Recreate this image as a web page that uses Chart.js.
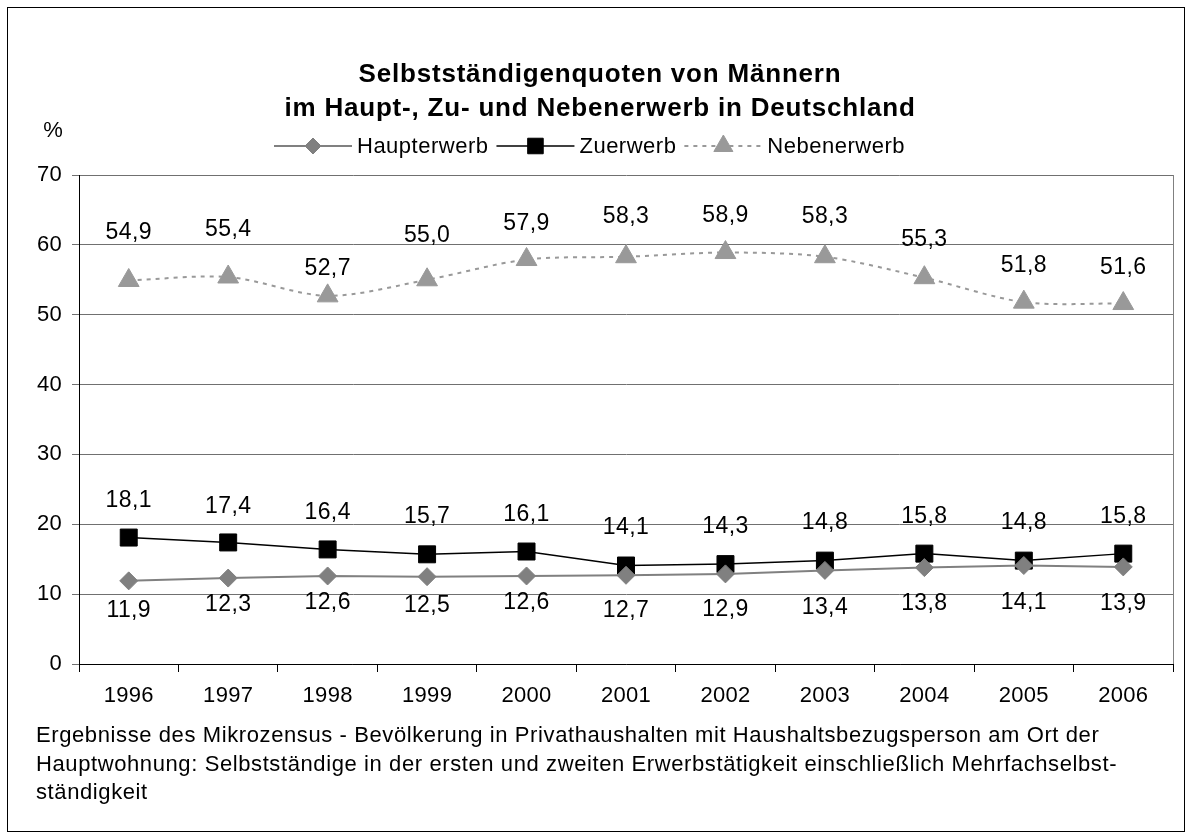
<!DOCTYPE html>
<html>
<head>
<meta charset="utf-8">
<script src="https://cdn.jsdelivr.net/npm/chart.js@4"></script>
<style>
  html, body { margin: 0; padding: 0; background: #fff; }
  #wrap { position: relative; width: 1192px; height: 839px; }
</style>
</head>
<body>
<div id="wrap"><canvas id="chart" width="1192" height="839"></canvas></div>
<script>
// data
const years = ['1996', '1997', '1998', '1999', '2000', '2001', '2002', '2003', '2004', '2005', '2006'];
const haupterwerb = [11.9, 12.3, 12.6, 12.5, 12.6, 12.7, 12.9, 13.4, 13.8, 14.1, 13.9];
const zuerwerb = [18.1, 17.4, 16.4, 15.7, 16.1, 14.1, 14.3, 14.8, 15.8, 14.8, 15.8];
const nebenerwerb = [54.9, 55.4, 52.7, 55.0, 57.9, 58.3, 58.9, 58.3, 55.3, 51.8, 51.6];
const yTicks = [0, 10, 20, 30, 40, 50, 60, 70];

const titleLines = ['Selbstständigenquoten von Männern', 'im Haupt-, Zu- und Nebenerwerb in Deutschland'];
const footnoteLines = [
    'Ergebnisse des Mikrozensus - Bevölkerung in Privathaushalten mit Haushaltsbezugsperson am Ort der',
    'Hauptwohnung: Selbstständige in der ersten und zweiten Erwerbstätigkeit einschließlich Mehrfachselbst-',
    'ständigkeit'
];

// label placement (pixels from the point, vertical)
const labelShift = [
    [30, 27, 27, 29, 27, 35, 36, 37, 36, 37, 37],
    [-37, -36, -37, -38, -37, -38, -37, -38, -37, -38, -37],
    [-48, -47, -27, -44, -36, -40, -37, -40, -38, -36, -36]
];

const FONT = '"Liberation Sans", Arial, sans-serif';
const fmt = v => v.toFixed(1).replace('.', ',');

const decorations = {
    id: 'decorations',
    beforeDraw(chart) {
        // the original renders text a little wider than Liberation Sans
        chart.ctx.letterSpacing = '0.3px';
    },
    afterDatasetsDraw(chart) {
        const ctx = chart.ctx;
        const area = chart.chartArea;
        ctx.save();

        // right edge of plot
        ctx.strokeStyle = '#808080';
        ctx.lineWidth = 1;
        ctx.beginPath();
        ctx.moveTo(Math.round(area.right) + 0.5, area.top);
        ctx.lineTo(Math.round(area.right) + 0.5, area.bottom);
        ctx.stroke();

        // value labels
        ctx.fillStyle = '#000';
        ctx.font = '23px ' + FONT;
        ctx.letterSpacing = '0.4px';
        ctx.textAlign = 'center';
        ctx.textBaseline = 'middle';
        chart.data.datasets.forEach((ds, di) => {
            chart.getDatasetMeta(di).data.forEach((pt, i) => {
                ctx.fillText(fmt(ds.data[i]), pt.x, pt.y + labelShift[di][i]);
            });
        });
        ctx.restore();
    },
    afterDraw(chart) {
        const ctx = chart.ctx;
        ctx.save();

        // outer frame
        ctx.strokeStyle = '#000';
        ctx.lineWidth = 1;
        ctx.strokeRect(7.5, 7.5, 1177, 824);

        // title
        ctx.fillStyle = '#000';
        ctx.textAlign = 'center';
        ctx.textBaseline = 'middle';
        ctx.font = 'bold 26px ' + FONT;
        ctx.letterSpacing = '0.8px';
        ctx.fillText(titleLines[0], 600, 75);
        ctx.fillText(titleLines[1], 600, 109);

        // unit
        ctx.font = '22px ' + FONT;
        ctx.letterSpacing = '0px';
        ctx.fillText('%', 53, 131);

        // legend
        ctx.font = '22px ' + FONT;
        ctx.letterSpacing = '0.5px';
        ctx.textAlign = 'left';
        const lineLen = 78;
        let x = 274;
        const ly = 146;
        chart.data.datasets.forEach(ds => {
            ctx.save();
            ctx.strokeStyle = ds.borderColor;
            ctx.lineWidth = ds.borderWidth;
            ctx.setLineDash(ds.borderDash || []);
            ctx.beginPath();
            ctx.moveTo(x, ly);
            ctx.lineTo(x + lineLen, ly);
            ctx.stroke();
            ctx.restore();
            ctx.fillStyle = ds.pointBackgroundColor;
            ctx.strokeStyle = ds.pointBorderColor;
            Chart.helpers.drawPoint(ctx, {
                pointStyle: ds.pointStyle,
                radius: ds.pointRadius - 1,
                borderWidth: 1
            }, x + lineLen / 2, ly);
            ctx.fillStyle = '#000';
            ctx.fillText(ds.label, x + lineLen + 5, ly + 1);
            x += lineLen + 5 + ctx.measureText(ds.label).width + 8;
        });

        // footnote
        ctx.font = '22px ' + FONT;
        ctx.letterSpacing = '0.6px';
        ctx.fillStyle = '#000';
        footnoteLines.forEach((t, i) => ctx.fillText(t, 36, 736 + i * 28.5));
        ctx.restore();
    }
};

new Chart(document.getElementById('chart'), {
    type: 'line',
    data: {
        labels: years,
        datasets: [
            {
                label: 'Haupterwerb',
                data: haupterwerb,
                borderColor: '#808080',
                borderWidth: 2,
                pointStyle: 'rectRot',
                pointRadius: 9,
                pointBackgroundColor: '#808080',
                pointBorderColor: '#808080',
                pointBorderWidth: 1,
                tension: 0
            },
            {
                label: 'Zuerwerb',
                data: zuerwerb,
                borderColor: '#000000',
                borderWidth: 1.5,
                pointStyle: 'rect',
                pointRadius: 12,
                pointBackgroundColor: '#000000',
                pointBorderColor: '#000000',
                pointBorderWidth: 1,
                tension: 0
            },
            {
                label: 'Nebenerwerb',
                data: nebenerwerb,
                borderColor: '#999999',
                borderWidth: 2,
                borderDash: [4, 5],
                pointStyle: 'triangle',
                pointRadius: 12,
                pointBackgroundColor: '#999999',
                pointBorderColor: '#999999',
                pointBorderWidth: 1,
                tension: 0.3
            }
        ]
    },
    options: {
        responsive: false,
        animation: false,
        layout: { padding: { top: 175, right: 19, left: 0, bottom: 0 } },
        plugins: {
            legend: { display: false },
            title: { display: false },
            tooltip: { enabled: false }
        },
        scales: {
            x: {
                offset: true,
                grid: { offset: true, drawOnChartArea: false, drawTicks: true, tickLength: 8, color: '#000' },
                border: { color: '#000', width: 1 },
                ticks: { color: '#000', font: { family: FONT, size: 22 }, padding: 11, maxRotation: 0 },
                afterFit: s => { s.height = 175; }
            },
            y: {
                min: 0,
                max: 70,
                afterBuildTicks: s => { s.ticks = yTicks.map(v => ({ value: v })); },
                grid: { color: '#707070', tickLength: 7 },
                border: { color: '#000', width: 1 },
                ticks: { color: '#000', font: { family: FONT, size: 22 }, padding: 10 },
                afterFit: s => { s.width = 79; }
            }
        }
    },
    plugins: [decorations]
});
</script>
</body>
</html>
